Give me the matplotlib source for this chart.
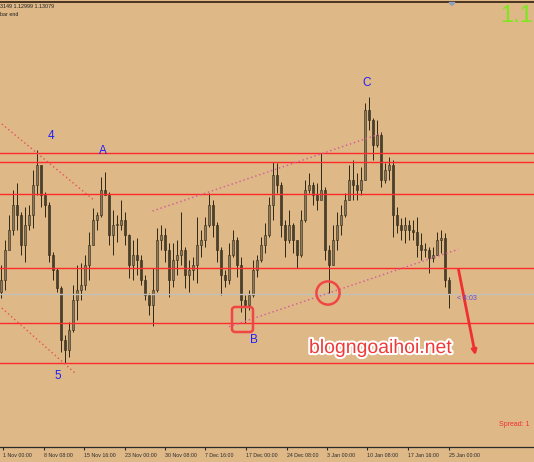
import numpy as np
import matplotlib
matplotlib.use("Agg")
import matplotlib.pyplot as plt
from matplotlib.transforms import Affine2D
from matplotlib.patches import Circle, FancyBboxPatch, FancyArrowPatch
import matplotlib.patheffects as pe

# H4 bars (price)
highs = [1.1337, 1.1362, 1.1387, 1.1412, 1.1419, 1.1390, 1.1395, 1.1397, 1.1432, 1.1452,
         1.1437, 1.1410, 1.1400, 1.1350, 1.1334, 1.1316, 1.1267, 1.1280, 1.1317, 1.1337,
         1.1339, 1.1347, 1.1370, 1.1394, 1.1390, 1.1425, 1.1430, 1.1410, 1.1392, 1.1387,
         1.1402, 1.1390, 1.1368, 1.1362, 1.1364, 1.1347, 1.1327, 1.1309, 1.1334, 1.1374,
         1.1377, 1.1374, 1.1359, 1.1359, 1.1362, 1.1390, 1.1355, 1.1342, 1.1345, 1.1385,
         1.1372, 1.1385, 1.1409, 1.1402, 1.1380, 1.1355, 1.1332, 1.1359, 1.1372, 1.1365,
         1.1345, 1.1307, 1.1312, 1.1342, 1.1347, 1.1365, 1.1379, 1.1405, 1.1440, 1.1439,
         1.1420, 1.1382, 1.1392, 1.1379, 1.1362, 1.1392, 1.1422, 1.1429, 1.1420, 1.1419,
         1.1449, 1.1415, 1.1357, 1.1377, 1.1390, 1.1397, 1.1409, 1.1437, 1.1442, 1.1429,
         1.1435, 1.1499, 1.1505, 1.1484, 1.1482, 1.1470, 1.1439, 1.1445, 1.1442, 1.1395,
         1.1384, 1.1385, 1.1382, 1.1382, 1.1385, 1.1369, 1.1359, 1.1355, 1.1355, 1.1370,
         1.1372, 1.1369, 1.1325]
lows = [1.1304, 1.1312, 1.1352, 1.1367, 1.1372, 1.1347, 1.1340, 1.1372, 1.1374, 1.1407,
        1.1395, 1.1385, 1.1340, 1.1322, 1.1310, 1.1250, 1.1239, 1.1245, 1.1270, 1.1282,
        1.1302, 1.1312, 1.1322, 1.1357, 1.1372, 1.1385, 1.1407, 1.1357, 1.1347, 1.1360,
        1.1372, 1.1357, 1.1324, 1.1322, 1.1327, 1.1317, 1.1302, 1.1287, 1.1276, 1.1310,
        1.1352, 1.1340, 1.1305, 1.1315, 1.1327, 1.1337, 1.1314, 1.1310, 1.1322, 1.1319,
        1.1345, 1.1355, 1.1375, 1.1365, 1.1340, 1.1307, 1.1315, 1.1318, 1.1345, 1.1325,
        1.1290, 1.1279, 1.1292, 1.1305, 1.1325, 1.1340, 1.1349, 1.1365, 1.1382, 1.1409,
        1.1365, 1.1345, 1.1359, 1.1349, 1.1334, 1.1345, 1.1380, 1.1409, 1.1397, 1.1392,
        1.1407, 1.1342, 1.1309, 1.1337, 1.1352, 1.1367, 1.1385, 1.1402, 1.1402, 1.1402,
        1.1407, 1.1422, 1.1472, 1.1442, 1.1455, 1.1415, 1.1419, 1.1422, 1.1365, 1.1369,
        1.1362, 1.1359, 1.1362, 1.1362, 1.1345, 1.1342, 1.1345, 1.1329, 1.1340, 1.1347,
        1.1349, 1.1315, 1.1294]
closes = [1.1322, 1.1352, 1.1372, 1.1397, 1.1387, 1.1357, 1.1377, 1.1387, 1.1417, 1.1437,
          1.1407, 1.1397, 1.1347, 1.1332, 1.1314, 1.1262, 1.1252, 1.1272, 1.1302, 1.1312,
          1.1317, 1.1337, 1.1357, 1.1382, 1.1387, 1.1412, 1.1407, 1.1367, 1.1377, 1.1377,
          1.1382, 1.1367, 1.1337, 1.1347, 1.1342, 1.1322, 1.1307, 1.1297, 1.1312, 1.1362,
          1.1367, 1.1352, 1.1322, 1.1342, 1.1347, 1.1352, 1.1327, 1.1332, 1.1337, 1.1357,
          1.1362, 1.1377, 1.1397, 1.1377, 1.1352, 1.1327, 1.1322, 1.1347, 1.1362, 1.1337,
          1.1302, 1.1297, 1.1307, 1.1332, 1.1342, 1.1357, 1.1367, 1.1397, 1.1427, 1.1417,
          1.1377, 1.1362, 1.1377, 1.1362, 1.1347, 1.1382, 1.1412, 1.1417, 1.1407, 1.1402,
          1.1412, 1.1352, 1.1337, 1.1362, 1.1377, 1.1387, 1.1402, 1.1422, 1.1417, 1.1412,
          1.1422, 1.1492, 1.1482, 1.1457, 1.1467, 1.1422, 1.1432, 1.1437, 1.1387, 1.1377,
          1.1372, 1.1377, 1.1372, 1.1370, 1.1357, 1.1352, 1.1352, 1.1344, 1.1347, 1.1362,
          1.1364, 1.1322, 1.1308]
first_open = 1.1310

tick_pos = [0.6, 10.7, 20.8, 30.9, 41.0, 51.1, 61.3, 71.4, 81.5, 91.6, 101.7, 111.9]
tick_labels = ["1 Nov 00:00", "8 Nov 08:00", "15 Nov 16:00", "23 Nov 00:00",
               "30 Nov 08:00", "7 Dec 16:00", "17 Dec 00:00", "24 Dec 08:00",
               "3 Jan 00:00", "10 Jan 08:00", "17 Jan 16:00", "25 Jan 00:00"]

levels = [1.1449, 1.1440, 1.1408, 1.1334, 1.1279, 1.1239]
bid = 1.1308

# trend lines: (x0, y0, x1, y1)
down_lines = [(0.2, 1.1478, 23.5, 1.1401), (0.2, 1.1294, 18.5, 1.1229)]
up_lines = [(37.9, 1.1391, 95.2, 1.14687), (57.0, 1.12753, 114.3, 1.13527)]

# wave labels (bar index, price, text)
waves = [(12.6, 1.1466, "4"), (25.5, 1.1451, "A"), (14.2, 1.1226, "5"),
         (63.2, 1.1262, "B"), (91.5, 1.1519, "C")]

bg = "#DEB887"
W, H = 534, 462
fig = plt.figure(figsize=(W / 100, H / 100), dpi=100, facecolor=bg)
ax = fig.add_axes([0, 15 / H, 1, 445 / H], facecolor=bg)
pix = Affine2D().scale(1, -1).translate(0, H)

x = np.arange(len(closes))
o = np.array([first_open] + closes[:-1])
c = np.array(closes)
ax.vlines(x, lows, highs, color="#2E2616", lw=0.7, zorder=2)
bull = c >= o
body = np.maximum(np.abs(c - o), 0.00006)
bot = np.minimum(o, c)
ax.bar(x[bull], body[bull], bottom=bot[bull], width=0.55, color="#8C7A58",
       edgecolor="#2E2616", lw=0.4, zorder=2)
ax.bar(x[~bull], body[~bull], bottom=bot[~bull], width=0.55, color="#4A3F2C",
       edgecolor="#2E2616", lw=0.4, zorder=2)

for lv in levels:
    ax.axhline(lv, color="#FF2A2A", lw=1.0, zorder=3)
ax.axhline(bid, color="#C4C0B8", lw=1.0, zorder=3)

for x0, y0, x1, y1 in down_lines:
    ax.plot([x0, x1], [y0, y1], color="#E8505A", lw=1.0, ls=(0, (1, 2)), zorder=3)
for x0, y0, x1, y1 in up_lines:
    ax.plot([x0, x1], [y0, y1], color="#D8559C", lw=1.0, ls=(0, (1, 2)), zorder=3)

for wx, wy, wt in waves:
    ax.text(wx, wy, wt, color="#1E1EFF", fontsize=8.5, family="Liberation Sans",
            ha="center", va="center", zorder=4)

ax.set_xlim(-0.25, 133.25)
ax.set_ylim(1.1155, 1.1600)
ax.set_yticks([])
ax.set_xticks(tick_pos)
ax.set_xticklabels(tick_labels, fontsize=3.8, family="Liberation Sans",
                   color="#2A2A2A", ha="left")
ax.tick_params(axis="x", direction="out", length=2.5, width=0.8, pad=2,
               color="#2A2A2A")
for s in ["left", "right"]:
    ax.spines[s].set_visible(False)
ax.spines["bottom"].set_color("#2A2A2A")
ax.spines["bottom"].set_linewidth(0.9)
ax.spines["top"].set_color("#4A3420")
ax.spines["top"].set_linewidth(1.4)

# overlays in pixel coordinates
red = "#F04646"
fig.add_artist(Circle((328, 293), 11.6, transform=pix, fill=False, ec=red, lw=1.8))
fig.add_artist(FancyBboxPatch((232, 307), 21, 25, boxstyle="round,pad=0,rounding_size=3",
                              transform=pix, fill=False, ec=red, lw=1.8))
fig.add_artist(FancyArrowPatch((458, 267), (476, 358), transform=pix, arrowstyle="-|>",
                               mutation_scale=7, lw=2, color="#EE3030"))
fig.text(309, 353, "blogngoaihoi.net", transform=pix, fontsize=14, color="#F03A3A",
         family="Liberation Sans", ha="left", va="baseline",
         path_effects=[pe.withStroke(linewidth=3, foreground="white")])
fig.text(457, 298, "< 4:03", transform=pix, fontsize=5, color="#5A4EE0",
         family="Liberation Sans", ha="left", va="center")
fig.text(499, 424, "Spread: 1", transform=pix, fontsize=5, color="#F03030",
         family="Liberation Sans", ha="left", va="center")
fig.text(0.5, 6.5, "3149 1.12999 1.13079", transform=pix, fontsize=3.9, color="#202020",
         family="Liberation Sans", ha="left", va="center")
fig.text(0.5, 14.5, "bar end", transform=pix, fontsize=3.9, color="#202020",
         family="Liberation Sans", ha="left", va="center")
fig.text(500, 15.5, "1.1", transform=pix, fontsize=17, color="#7CE81C",
         family="Liberation Sans", ha="left", va="center")
fig.add_artist(plt.Polygon([[449, 2.5], [455, 2.5], [452, 5.5]], closed=True,
                           transform=pix, color="#8FA0B8"))

fig.savefig("out.png", dpi=100, facecolor=bg)
